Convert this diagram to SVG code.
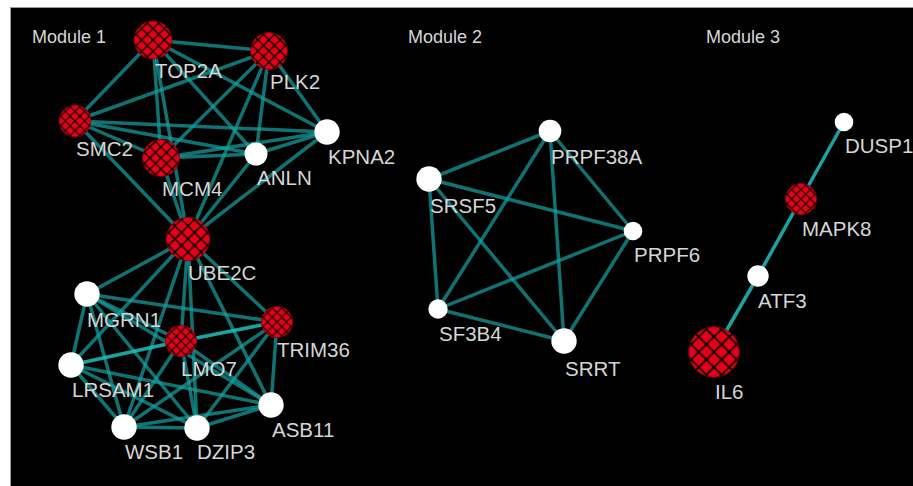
<svg xmlns="http://www.w3.org/2000/svg" width="913" height="486" viewBox="0 0 913 486">
<defs>
<pattern id="hatch" patternUnits="objectBoundingBox" patternContentUnits="objectBoundingBox" x="0.05" y="0.05" width="0.3" height="0.3">
<rect x="-0.1" y="-0.1" width="0.6" height="0.6" fill="#e8001a"/>
<path d="M0,0 L0.3,0.3 M0.3,0 L0,0.3" stroke="#1a0000" stroke-width="0.04" fill="none"/>
</pattern>
<style>
.e{stroke:#16a0a0;stroke-width:3.5;stroke-opacity:0.72;fill:none;stroke-linecap:round}
.b{stroke:#1fc0c0;stroke-width:3.5;stroke-opacity:0.85;fill:none}
.r{fill:url(#hatch);stroke:#7a0010;stroke-width:0.8}
.w{fill:#ffffff}
.t{font-family:"Liberation Sans",Arial,sans-serif;font-size:20.5px;fill:#d6d6d6}
.m{font-family:"Liberation Sans",Arial,sans-serif;font-size:18px;fill:#d6d6d6}
</style>
</defs>
<rect x="0" y="0" width="913" height="486" fill="#ffffff"/>
<rect x="10.5" y="7.5" width="903" height="480" fill="#000000" stroke="#9a9a9a" stroke-width="1"/>
<text class="m" x="32" y="43">Module 1</text>
<text class="m" x="408" y="43">Module 2</text>
<text class="m" x="706" y="43">Module 3</text>
<g id="edges">
<!-- Module 1 upper -->
<line class="e" x1="153" y1="40" x2="269" y2="51"/>
<line class="e" x1="153" y1="40" x2="75" y2="121"/>
<line class="e" x1="153" y1="40" x2="161" y2="158"/>
<line class="e" x1="153" y1="40" x2="256" y2="154"/>
<line class="e" x1="153" y1="40" x2="327" y2="132"/>
<line class="e" x1="153" y1="40" x2="188" y2="239"/>
<line class="e" x1="269" y1="51" x2="75" y2="121"/>
<line class="e" x1="269" y1="51" x2="161" y2="158"/>
<line class="e" x1="269" y1="51" x2="256" y2="154"/>
<line class="e" x1="269" y1="51" x2="327" y2="132"/>
<line class="e" x1="269" y1="51" x2="188" y2="239"/>
<line class="e" x1="75" y1="121" x2="161" y2="158"/>
<line class="e" x1="75" y1="121" x2="256" y2="154"/>
<line class="e" x1="75" y1="121" x2="327" y2="132"/>
<line class="e" x1="75" y1="121" x2="188" y2="239"/>
<line class="e" x1="161" y1="158" x2="256" y2="154"/>
<line class="e" x1="161" y1="158" x2="327" y2="132"/>
<line class="e" x1="161" y1="158" x2="188" y2="239"/>
<line class="e" x1="256" y1="154" x2="327" y2="132"/>
<line class="e" x1="256" y1="154" x2="188" y2="239"/>
<line class="e" x1="327" y1="132" x2="188" y2="239"/>
<!-- Module 1 lower -->
<line class="e" x1="188" y1="239" x2="87" y2="294"/>
<line class="e" x1="188" y1="239" x2="277" y2="322"/>
<line class="e" x1="188" y1="239" x2="181" y2="341"/>
<line class="e" x1="188" y1="239" x2="71" y2="365"/>
<line class="e" x1="188" y1="239" x2="124" y2="427"/>
<line class="e" x1="188" y1="239" x2="197" y2="428"/>
<line class="e" x1="188" y1="239" x2="271" y2="405"/>
<line class="e" x1="87" y1="294" x2="277" y2="322"/>
<line class="e" x1="87" y1="294" x2="181" y2="341"/>
<line class="e" x1="87" y1="294" x2="71" y2="365"/>
<line class="e" x1="87" y1="294" x2="124" y2="427"/>
<line class="e" x1="87" y1="294" x2="197" y2="428"/>
<line class="e" x1="87" y1="294" x2="271" y2="405"/>
<line class="b" x1="71" y1="365" x2="181" y2="341"/>
<line class="e" x1="71" y1="365" x2="124" y2="427"/>
<line class="e" x1="71" y1="365" x2="197" y2="428"/>
<line class="e" x1="71" y1="365" x2="271" y2="405"/>
<line class="e" x1="124" y1="427" x2="197" y2="428"/>
<line class="e" x1="124" y1="427" x2="271" y2="405"/>
<line class="e" x1="124" y1="427" x2="181" y2="341"/>
<line class="e" x1="124" y1="427" x2="277" y2="322"/>
<line class="e" x1="197" y1="428" x2="271" y2="405"/>
<line class="e" x1="197" y1="428" x2="181" y2="341"/>
<line class="e" x1="197" y1="428" x2="277" y2="322"/>
<line class="e" x1="271" y1="405" x2="277" y2="322"/>
<line class="e" x1="271" y1="405" x2="181" y2="341"/>
<line class="b" x1="181" y1="341" x2="277" y2="322"/>
<!-- Module 2 -->
<line class="e" x1="429" y1="179" x2="550" y2="131"/>
<line class="e" x1="429" y1="179" x2="633" y2="231"/>
<line class="e" x1="429" y1="179" x2="438" y2="309"/>
<line class="e" x1="429" y1="179" x2="564" y2="341"/>
<line class="e" x1="550" y1="131" x2="633" y2="231"/>
<line class="e" x1="550" y1="131" x2="438" y2="309"/>
<line class="e" x1="550" y1="131" x2="564" y2="341"/>
<line class="e" x1="633" y1="231" x2="438" y2="309"/>
<line class="e" x1="633" y1="231" x2="564" y2="341"/>
<line class="e" x1="438" y1="309" x2="564" y2="341"/>
<!-- Module 3 -->
<line class="b" x1="844" y1="122" x2="801" y2="199"/>
<line class="b" x1="801" y1="199" x2="758" y2="276"/>
<line class="b" x1="758" y1="276" x2="714" y2="352"/>
</g>
<g id="TOP2A"><circle class="r" cx="153" cy="40" r="19"/><text class="t" x="155" y="78">TOP2A</text></g>
<g id="PLK2"><circle class="r" cx="269" cy="51" r="18.5"/><text class="t" x="270" y="89">PLK2</text></g>
<g id="SMC2"><circle class="r" cx="75" cy="121" r="16"/><text class="t" x="76" y="156">SMC2</text></g>
<g id="MCM4"><circle class="r" cx="161" cy="158" r="18.5"/><text class="t" x="162" y="196">MCM4</text></g>
<g id="ANLN"><circle class="w" cx="256" cy="154" r="11.5"/><text class="t" x="257" y="185">ANLN</text></g>
<g id="KPNA2"><circle class="w" cx="327" cy="132" r="12.7"/><text class="t" x="328" y="164">KPNA2</text></g>
<g id="UBE2C"><circle class="r" cx="188" cy="239" r="21.7"/><text class="t" x="188" y="280">UBE2C</text></g>
<g id="MGRN1"><circle class="w" cx="87" cy="294" r="12.7"/><text class="t" x="87" y="327">MGRN1</text></g>
<g id="TRIM36"><circle class="r" cx="277" cy="322" r="15.7"/><text class="t" x="277" y="357">TRIM36</text></g>
<g id="LMO7"><circle class="r" cx="181" cy="341" r="15.7"/><text class="t" x="181" y="376">LMO7</text></g>
<g id="LRSAM1"><circle class="w" cx="71" cy="365" r="12.7"/><text class="t" x="72" y="397">LRSAM1</text></g>
<g id="WSB1"><circle class="w" cx="124" cy="427" r="12.7"/><text class="t" x="125" y="459">WSB1</text></g>
<g id="DZIP3"><circle class="w" cx="197" cy="428" r="12.7"/><text class="t" x="197" y="459">DZIP3</text></g>
<g id="ASB11"><circle class="w" cx="271" cy="405" r="12.7"/><text class="t" x="272" y="437">ASB11</text></g>
<g id="PRPF38A"><circle class="w" cx="550" cy="131" r="11.3"/><text class="t" x="551" y="164">PRPF38A</text></g>
<g id="SRSF5"><circle class="w" cx="429" cy="179" r="12.7"/><text class="t" x="430" y="213">SRSF5</text></g>
<g id="PRPF6"><circle class="w" cx="633" cy="231" r="9.3"/><text class="t" x="634" y="262">PRPF6</text></g>
<g id="SF3B4"><circle class="w" cx="438" cy="309" r="9.7"/><text class="t" x="439" y="341">SF3B4</text></g>
<g id="SRRT"><circle class="w" cx="564" cy="341" r="12.7"/><text class="t" x="565" y="376">SRRT</text></g>
<g id="DUSP1"><circle class="w" cx="844" cy="122" r="9.3"/><text class="t" x="845" y="153">DUSP1</text></g>
<g id="MAPK8"><circle class="r" cx="801" cy="199" r="15.7"/><text class="t" x="802" y="236">MAPK8</text></g>
<g id="ATF3"><circle class="w" cx="758" cy="276" r="10.7"/><text class="t" x="758" y="308">ATF3</text></g>
<g id="IL6"><circle class="r" cx="714" cy="352" r="25.3"/><text class="t" x="715" y="399">IL6</text></g>
</svg>
